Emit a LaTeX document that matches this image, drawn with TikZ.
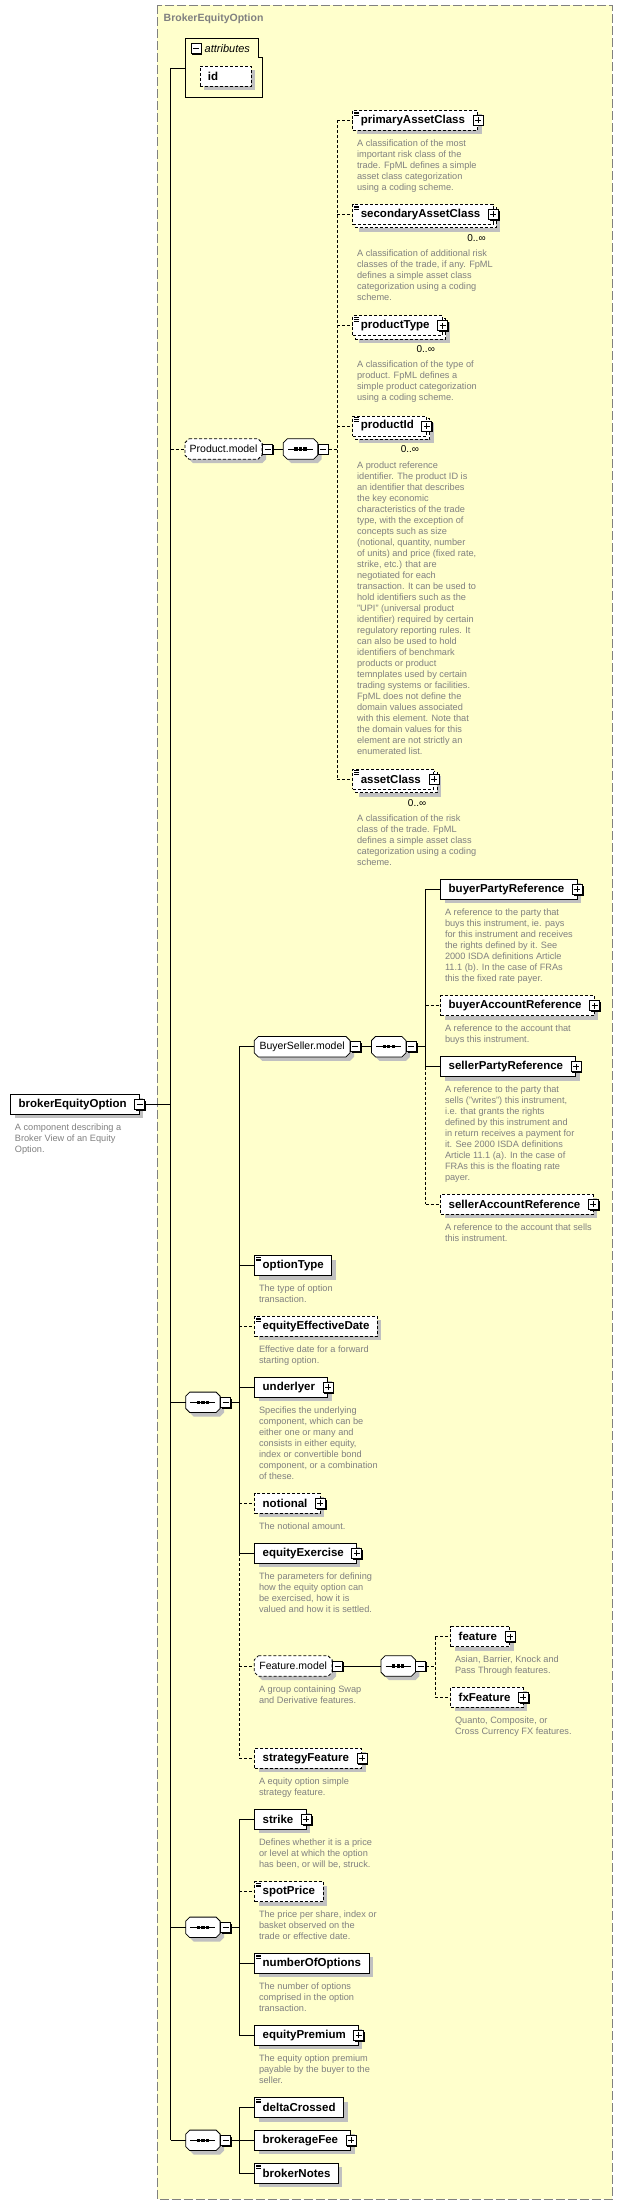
\documentclass[tikz,border=0pt]{standalone}
\usepackage{fontspec}
\setmainfont{Liberation Sans}
\usepackage{xcolor}
\usepackage{tikz}
\usetikzlibrary{positioning,shadows}
\definecolor{paleyellow}{RGB}{255,255,204}
\definecolor{framegray}{RGB}{128,128,128}
\definecolor{descgray}{RGB}{128,128,128}
\definecolor{shadegray}{RGB}{192,192,192}
\pgfdeclarelayer{bg}
\pgfdeclarelayer{back}
\pgfsetlayers{bg,back,main}
\newcommand{\elemfont}{\fontsize{11.5}{13}\selectfont\bfseries}
\tikzset{
    shd/.style={drop shadow={shadow xshift=4pt,shadow yshift=-4pt,fill=shadegray,opacity=1}},
    elem/.style={rectangle,draw,fill=white,line width=0.8pt,minimum height=20pt,inner xsep=8pt,inner ysep=0pt,anchor=west,font=\elemfont},
    optl/.style={elem,dash pattern=on 3pt off 2pt},
    more/.style={execute at end node=\hspace*{4.6pt}},
    grp/.style={rectangle,minimum height=20pt,inner sep=0pt,anchor=west,font=\fontsize{10.5}{12}\selectfont},
    seqn/.style={grp,minimum width=34pt},
    oct/.style={draw,fill=white,line width=0.8pt,shd},
    ooct/.style={oct,dash pattern=on 3pt off 2pt},
    pmbox/.style={rectangle,draw,fill=white,line width=0.8pt,minimum size=10pt,inner sep=0pt,drop shadow={shadow xshift=1.2pt,shadow yshift=-1.2pt,fill=black,opacity=1}},
    pbox/.style={pmbox,path picture={
        \draw[line width=0.8pt] ([xshift=2pt]path picture bounding box.west) -- ([xshift=-2pt]path picture bounding box.east)
        ([yshift=-2pt]path picture bounding box.north) -- ([yshift=2pt]path picture bounding box.south);}},
    mbox/.style={pmbox,path picture={
        \draw[line width=0.8pt] ([xshift=2pt]path picture bounding box.west) -- ([xshift=-2pt]path picture bounding box.east);}},
    desc/.style={align=left,inner sep=0pt,text=descgray,font=\fontsize{9.2}{11}\selectfont},
    mult/.style={inner sep=0pt,font=\fontsize{10}{12}\selectfont},
    con/.style={line width=0.8pt},
    ocon/.style={con,dash pattern=on 3pt off 2pt},
    outer/.style={draw=framegray,fill=paleyellow,line width=0.9pt,dash pattern=on 9pt off 3pt},
    backb/.style={draw,fill=white,line width=0.8pt,dash pattern=on 3pt off 2pt,shd},
}
\newcommand{\docmark}[1]{\draw[line width=0.6pt] ([shift={(1.8pt,-2pt)}]#1.north west) -- ++(5pt,0pt)
    ([shift={(1.8pt,-3.8pt)}]#1.north west) -- ++(5pt,0pt) ([shift={(1.8pt,-5.6pt)}]#1.north west) -- ++(5pt,0pt);}
\newcommand{\backbox}[1]{\begin{pgfonlayer}{back}\draw[backb] ([shift={(3pt,-3pt)}]#1.north west) rectangle ([shift={(3pt,-3pt)}]#1.south east);\end{pgfonlayer}}
\newcommand{\octo}[2]{\begin{pgfonlayer}{back}\draw[#2] ([xshift=4pt]#1.north west) -- ([xshift=-4pt]#1.north east) -- ([yshift=-4pt]#1.north east)
    -- ([yshift=4pt]#1.south east) -- ([xshift=-4pt]#1.south east) -- ([xshift=4pt]#1.south west) -- ([yshift=4pt]#1.south west)
    -- ([yshift=-4pt]#1.north west) -- cycle;\end{pgfonlayer}}
\newcommand{\seqmark}[1]{\octo{#1}{oct}\draw[line width=1pt] ([xshift=-12.5pt]#1.center) -- ([xshift=12.5pt]#1.center);
    \foreach \d in {-4.5,0,4.5} \fill[black] ([shift={(\d pt-1.6pt,-1.6pt)}]#1.center) rectangle ++(3.2pt,3.2pt);}

\begin{document}
\begin{tikzpicture}[x=1pt,y=-1pt]
\useasboundingbox (0,0) rectangle (623,2205);
\begin{pgfonlayer}{bg}
\draw[outer] (157,5.5) rectangle (612,2199);
\end{pgfonlayer}
\node[anchor=west,inner sep=0pt,text=framegray,font=\fontsize{10.5}{12}\selectfont\bfseries] (title) at (163.5,19) {BrokerEquityOption};

\coordinate (mainsp) at (170.7,0);
\coordinate (csp) at (337.3,0);
\coordinate (bsp) at (425.5,0);
\coordinate (lvl) at (239.3,0);
\coordinate (fsp) at (435.3,0);

\node[anchor=north west,minimum width=76.7pt,minimum height=59pt,inner sep=0pt] (attr) at (185.6,38.3) {};
\draw[con] (attr.north west) -- ([xshift=-4pt]attr.north east) |- ([yshift=-19.4pt]attr.north east) -- (attr.south east) -- (attr.south west) -- cycle;
\node[mbox] (attr-m) at (196,48.6) {};
\node[anchor=west,inner sep=0pt,font=\fontsize{11}{13}\selectfont\itshape] (attr-t) at (204.5,48.6) {attributes};
\node[optl,shd,text width=35.5pt] (id) at (199.5,76.5) {id};

\node[elem,shd,more] (root) at (10.3,1104.3) {brokerEquityOption};
\node[mbox] (root-m) at (root.east) {};
\node[desc,below right=8.9pt and 4.4pt of root.south west] (root-d) {A component describing a\\Broker View of an Equity\\Option.};

\node[grp,minimum width=76.7pt] (pm) at (185,449) {Product.model};
\octo{pm}{ooct}
\node[mbox,anchor=west] (pm-m) at (pm.east) {};
\node[seqn] (pms) at (283.3,449) {};
\seqmark{pms}
\node[mbox,anchor=west] (pms-m) at (pms.east) {};

\node[optl,shd,more] (pA) at (352.4,120.3) {primaryAssetClass};
\node[pbox] (pA-p) at (pA.east) {};
\docmark{pA}
\node[desc,below right=9pt and 4.5pt of pA.south west] (pA-d) {A classification of the most\\important risk class of the\\trade. FpML defines a simple\\asset class categorization\\using a coding scheme.};

\node[optl,more] (pB) at (352.4,214.3) {secondaryAssetClass};
\backbox{pB}
\node[pbox] (pB-p) at (pB.east) {};
\docmark{pB}
\node[mult,below left=9.5pt and 7.5pt of pB.south east] (pB-n) {0..∞};
\node[desc,below right=25pt and 4.5pt of pB.south west] (pB-d) {A classification of additional risk\\classes of the trade, if any. FpML\\defines a simple asset class\\categorization using a coding\\scheme.};

\node[optl,more] (pC) at (352.4,325.7) {productType};
\backbox{pC}
\node[pbox] (pC-p) at (pC.east) {};
\docmark{pC}
\node[mult,below left=9.5pt and 7.5pt of pC.south east] (pC-n) {0..∞};
\node[desc,below right=25pt and 4.5pt of pC.south west] (pC-d) {A classification of the type of\\product. FpML defines a\\simple product categorization\\using a coding scheme.};

\node[optl,more] (pD) at (352.4,425.9) {productId};
\backbox{pD}
\node[pbox] (pD-p) at (pD.east) {};
\docmark{pD}
\node[mult,below left=9.5pt and 7.5pt of pD.south east] (pD-n) {0..∞};
\node[desc,below right=25pt and 4.5pt of pD.south west] (pD-d) {A product reference\\identifier. The product ID is\\an identifier that describes\\the key economic\\characteristics of the trade\\type, with the exception of\\concepts such as size\\(notional, quantity, number\\of units) and price (fixed rate,\\strike, etc.) that are\\negotiated for each\\transaction. It can be used to\\hold identifiers such as the\\"UPI" (universal product\\identifier) required by certain\\regulatory reporting rules. It\\can also be used to hold\\identifiers of benchmark\\products or product\\temnplates used by certain\\trading systems or facilities.\\FpML does not define the\\domain values associated\\with this element. Note that\\the domain values for this\\element are not strictly an\\enumerated list.};

\node[optl,more] (pE) at (352.4,779.1) {assetClass};
\backbox{pE}
\node[pbox] (pE-p) at (pE.east) {};
\docmark{pE}
\node[mult,below left=9.5pt and 7.5pt of pE.south east] (pE-n) {0..∞};
\node[desc,below right=25pt and 4.5pt of pE.south west] (pE-d) {A classification of the risk\\class of the trade. FpML\\defines a simple asset class\\categorization using a coding\\scheme.};

\node[grp,minimum width=95.3pt] (bs) at (254.3,1046.7) {BuyerSeller.model};
\octo{bs}{oct}
\node[mbox,anchor=west] (bs-m) at (bs.east) {};
\node[seqn] (bss) at (371.5,1046.7) {};
\seqmark{bss}
\node[mbox,anchor=west] (bss-m) at (bss.east) {};

\node[elem,shd,more] (b1) at (440.3,889.3) {buyerPartyReference};
\node[pbox] (b1-p) at (b1.east) {};
\node[desc,below right=9pt and 4.5pt of b1.south west] (b1-d) {A reference to the party that\\buys this instrument, ie. pays\\for this instrument and receives\\the rights defined by it. See\\2000 ISDA definitions Article\\11.1 (b). In the case of FRAs\\this the fixed rate payer.};
\node[optl,shd,more] (b2) at (440.3,1005.7) {buyerAccountReference};
\node[pbox] (b2-p) at (b2.east) {};
\node[desc,below right=9pt and 4.5pt of b2.south west] (b2-d) {A reference to the account that\\buys this instrument.};
\node[elem,shd,more] (b3) at (440.3,1066.7) {sellerPartyReference};
\node[pbox] (b3-p) at (b3.east) {};
\node[desc,below right=9pt and 4.5pt of b3.south west] (b3-d) {A reference to the party that\\sells ("writes") this instrument,\\i.e. that grants the rights\\defined by this instrument and\\in return receives a payment for\\it. See 2000 ISDA definitions\\Article 11.1 (a). In the case of\\FRAs this is the floating rate\\payer.};
\node[optl,shd,more] (b4) at (440.3,1204.3) {sellerAccountReference};
\node[pbox] (b4-p) at (b4.east) {};
\node[desc,below right=9pt and 4.5pt of b4.south west] (b4-d) {A reference to the account that sells\\this instrument.};

\node[seqn] (sq1) at (185.7,1402.3) {};
\seqmark{sq1}
\node[mbox,anchor=west] (sq1-m) at (sq1.east) {};

\node[elem,shd] (optt) at (254.3,1265.5) {optionType};
\docmark{optt}
\node[desc,below right=9pt and 4.5pt of optt.south west] (optt-d) {The type of option\\transaction.};
\node[optl,shd] (effd) at (254.3,1326.3) {equityEffectiveDate};
\docmark{effd}
\node[desc,below right=9pt and 4.5pt of effd.south west] (effd-d) {Effective date for a forward\\starting option.};
\node[elem,shd,more] (und) at (254.3,1387.3) {underlyer};
\node[pbox] (und-p) at (und.east) {};
\node[desc,below right=9pt and 4.5pt of und.south west] (und-d) {Specifies the underlying\\component, which can be\\either one or many and\\consists in either equity,\\index or convertible bond\\component, or a combination\\of these.};
\node[optl,shd,more] (notl) at (254.3,1503.3) {notional};
\node[pbox] (notl-p) at (notl.east) {};
\node[desc,below right=9pt and 4.5pt of notl.south west] (notl-d) {The notional amount.};
\node[elem,shd,more] (exer) at (254.3,1553.3) {equityExercise};
\node[pbox] (exer-p) at (exer.east) {};
\node[desc,below right=9pt and 4.5pt of exer.south west] (exer-d) {The parameters for defining\\how the equity option can\\be exercised, how it is\\valued and how it is settled.};

\node[grp,minimum width=77.4pt] (fm) at (254.3,1666) {Feature.model};
\octo{fm}{ooct}
\node[mbox,anchor=west] (fm-m) at (fm.east) {};
\node[desc,below right=9pt and 4.5pt of fm.south west] (fm-d) {A group containing Swap\\and Derivative features.};
\node[seqn] (fms) at (381,1666) {};
\seqmark{fms}
\node[mbox,anchor=west] (fms-m) at (fms.east) {};
\node[optl,shd,more] (feat) at (450.3,1636.5) {feature};
\node[pbox] (feat-p) at (feat.east) {};
\node[desc,below right=9pt and 4.5pt of feat.south west] (feat-d) {Asian, Barrier, Knock and\\Pass Through features.};
\node[optl,shd,more] (fxft) at (450.3,1697.3) {fxFeature};
\node[pbox] (fxft-p) at (fxft.east) {};
\node[desc,below right=9pt and 4.5pt of fxft.south west] (fxft-d) {Quanto, Composite, or\\Cross Currency FX features.};

\node[optl,shd,more] (strat) at (254.3,1758.3) {strategyFeature};
\node[pbox] (strat-p) at (strat.east) {};
\node[desc,below right=9pt and 4.5pt of strat.south west] (strat-d) {A equity option simple\\strategy feature.};

\node[seqn] (sq2) at (185.7,1927.3) {};
\seqmark{sq2}
\node[mbox,anchor=west] (sq2-m) at (sq2.east) {};
\node[elem,shd,more] (strk) at (254.3,1819.3) {strike};
\node[pbox] (strk-p) at (strk.east) {};
\node[desc,below right=9pt and 4.5pt of strk.south west] (strk-d) {Defines whether it is a price\\or level at which the option\\has been, or will be, struck.};
\node[optl,shd] (spot) at (254.3,1891.5) {spotPrice};
\docmark{spot}
\node[desc,below right=9pt and 4.5pt of spot.south west] (spot-d) {The price per share, index or\\basket observed on the\\trade or effective date.};
\node[elem,shd] (nopt) at (254.3,1963.3) {numberOfOptions};
\docmark{nopt}
\node[desc,below right=9pt and 4.5pt of nopt.south west] (nopt-d) {The number of options\\comprised in the option\\transaction.};
\node[elem,shd,more] (prem) at (254.3,2035.3) {equityPremium};
\node[pbox] (prem-p) at (prem.east) {};
\node[desc,below right=9pt and 4.5pt of prem.south west] (prem-d) {The equity option premium\\payable by the buyer to the\\seller.};

\node[seqn] (sq3) at (185.7,2140.3) {};
\seqmark{sq3}
\node[mbox,anchor=west] (sq3-m) at (sq3.east) {};
\node[elem,shd] (dlt) at (254.3,2107.5) {deltaCrossed};
\docmark{dlt}
\node[elem,shd,more] (fee) at (254.3,2140.3) {brokerageFee};
\node[pbox] (fee-p) at (fee.east) {};
\node[elem,shd] (bnot) at (254.3,2173.3) {brokerNotes};
\docmark{bnot}

\draw[con] (attr.west -| mainsp) -- (sq3.west -| mainsp);
\draw[con] (attr.west -| mainsp) -- (attr.west);
\draw[ocon] (pm.west -| mainsp) -- (pm.west);
\draw[con] (root-m.east) -- (root-m.east -| mainsp);
\draw[con] (sq1.west -| mainsp) -- (sq1.west);
\draw[con] (sq2.west -| mainsp) -- (sq2.west);
\draw[con] (sq3.west -| mainsp) -- (sq3.west);

\draw[con] (pm-m.east) -- (pms.west);
\draw[ocon] (pms-m.east) -- (pms-m.east -| csp);
\draw[ocon] (pA.west -| csp) -- (pE.west -| csp);
\draw[ocon] (pA.west -| csp) -- (pA.west);
\draw[ocon] (pB.west -| csp) -- (pB.west);
\draw[ocon] (pC.west -| csp) -- (pC.west);
\draw[ocon] (pD.west -| csp) -- (pD.west);
\draw[ocon] (pE.west -| csp) -- (pE.west);

\draw[con] (bs-m.east) -- (bss.west);
\draw[con] (bss-m.east) -- (bss-m.east -| bsp);
\draw[con] (b1.west -| bsp) -- (b3.west -| bsp);
\draw[ocon] (b3.west -| bsp) -- (b4.west -| bsp);
\draw[con] (b1.west -| bsp) -- (b1.west);
\draw[ocon] (b2.west -| bsp) -- (b2.west);
\draw[con] (b3.west -| bsp) -- (b3.west);
\draw[ocon] (b4.west -| bsp) -- (b4.west);

\draw[con] (sq1-m.east) -- (sq1-m.east -| lvl);
\draw[con] (bs.west -| lvl) -- (exer.west -| lvl);
\draw[ocon] (exer.west -| lvl) -- (strat.west -| lvl);
\draw[con] (bs.west -| lvl) -- (bs.west);
\draw[con] (optt.west -| lvl) -- (optt.west);
\draw[ocon] (effd.west -| lvl) -- (effd.west);
\draw[con] (und.west -| lvl) -- (und.west);
\draw[ocon] (notl.west -| lvl) -- (notl.west);
\draw[con] (exer.west -| lvl) -- (exer.west);
\draw[ocon] (fm.west -| lvl) -- (fm.west);
\draw[ocon] (strat.west -| lvl) -- (strat.west);

\draw[con] (fm-m.east) -- (fms.west);
\draw[ocon] (fms-m.east) -- (fms-m.east -| fsp);
\draw[ocon] (feat.west -| fsp) -- (fxft.west -| fsp);
\draw[ocon] (feat.west -| fsp) -- (feat.west);
\draw[ocon] (fxft.west -| fsp) -- (fxft.west);

\draw[con] (sq2-m.east) -- (sq2-m.east -| lvl);
\draw[con] (strk.west -| lvl) -- (prem.west -| lvl);
\draw[con] (strk.west -| lvl) -- (strk.west);
\draw[ocon] (spot.west -| lvl) -- (spot.west);
\draw[con] (nopt.west -| lvl) -- (nopt.west);
\draw[con] (prem.west -| lvl) -- (prem.west);

\draw[con] (sq3-m.east) -- (sq3-m.east -| lvl);
\draw[con] (dlt.west -| lvl) -- (bnot.west -| lvl);
\draw[con] (dlt.west -| lvl) -- (dlt.west);
\draw[con] (fee.west -| lvl) -- (fee.west);
\draw[con] (bnot.west -| lvl) -- (bnot.west);
\end{tikzpicture}
\end{document}
